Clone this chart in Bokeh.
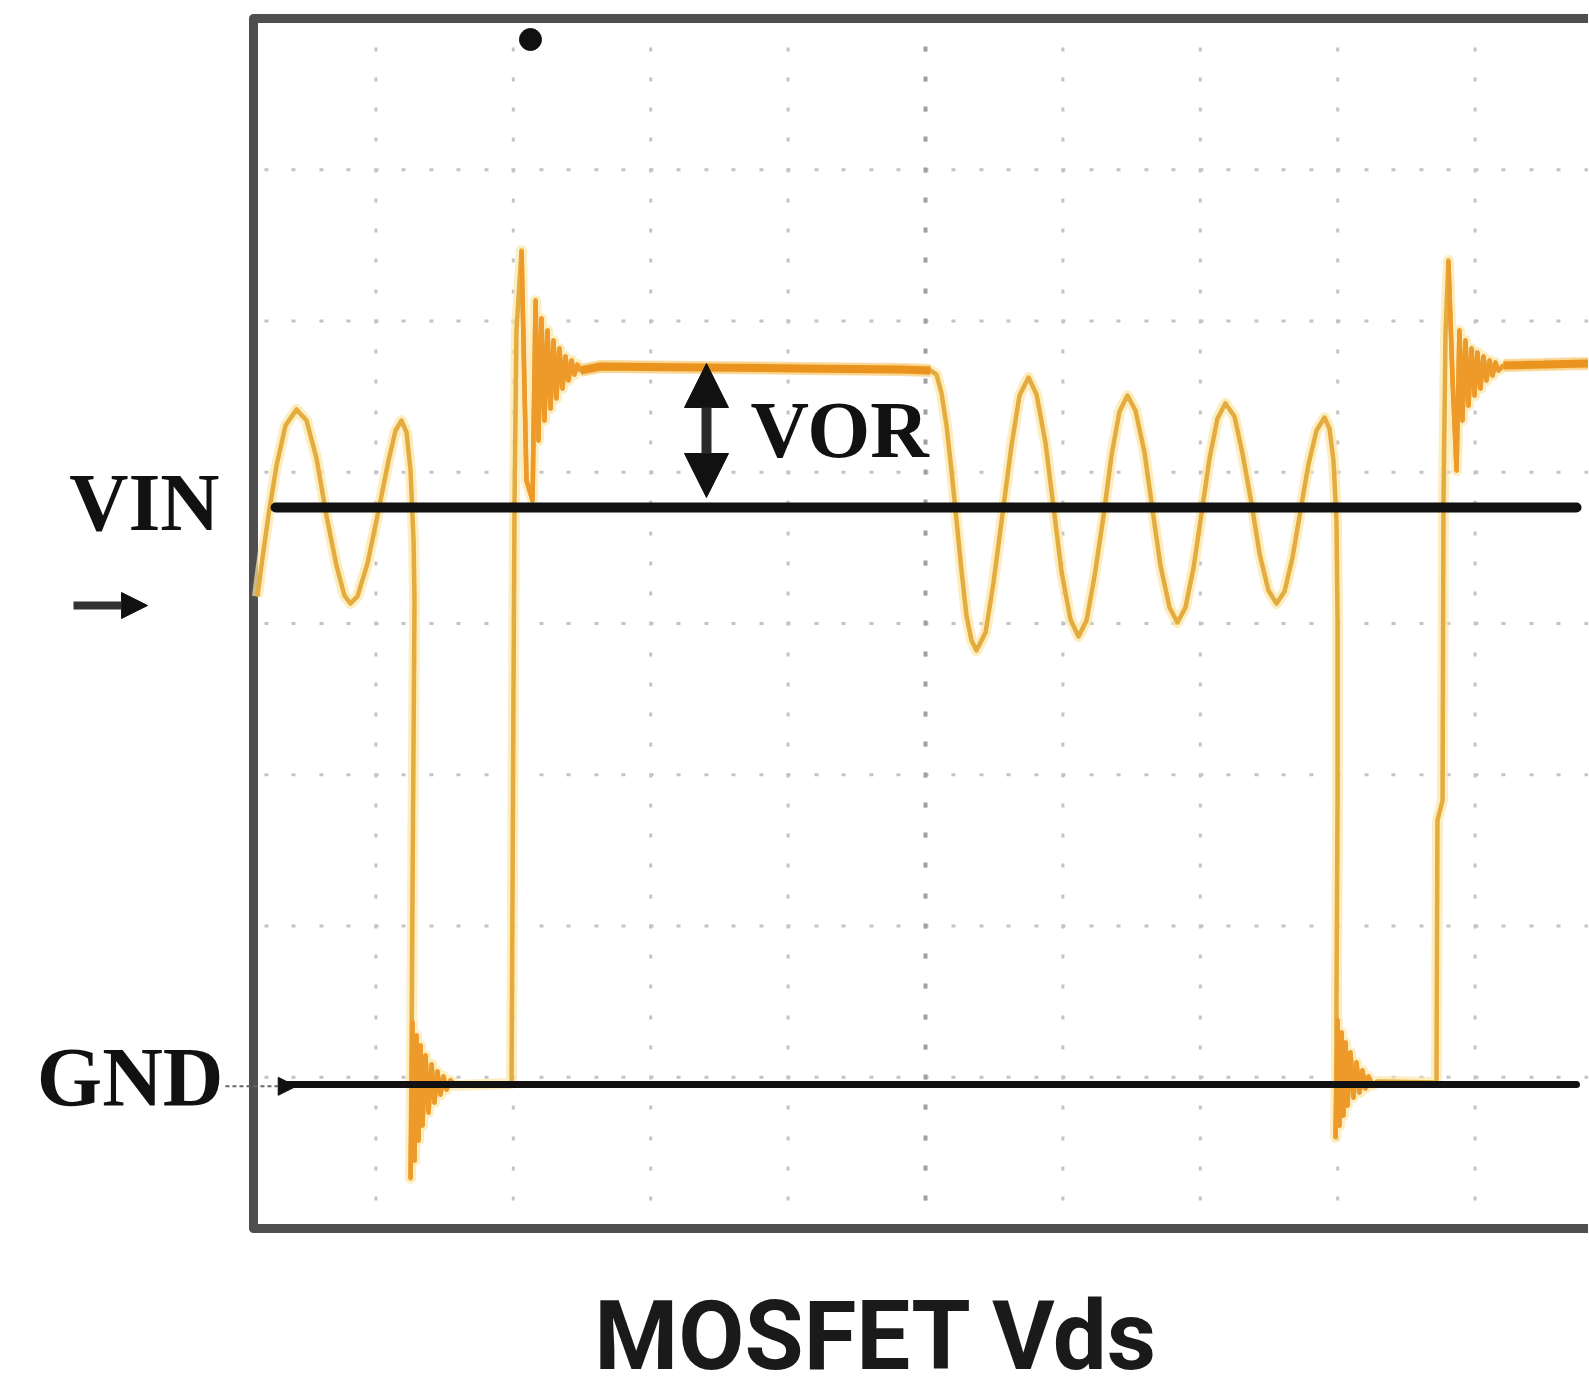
from bokeh.plotting import figure
from bokeh.models import Range1d, Label, Arrow, NormalHead
from bokeh.embed import file_html
from bokeh.resources import INLINE

# ---- data: time in divisions, voltage in divisions (screen bottom = 0) ----
ring1_t = [0.138, 0.167, 0.218, 0.277, 0.342, 0.422, 0.495, 0.568, 0.640, 0.713, 0.771,
           0.815, 0.866, 0.939, 1.019, 1.092, 1.143, 1.186, 1.223, 1.252, 1.274, 1.281]
ring1_v = [4.179, 4.383, 4.714, 5.045, 5.309, 5.415, 5.342, 5.091, 4.714, 4.383, 4.185,
           4.132, 4.179, 4.397, 4.747, 5.078, 5.276, 5.342, 5.263, 5.012, 4.549, 4.152]

fall1_t = [1.266, 1.259, 1.252, 1.266, 1.281, 1.295, 1.310, 1.325, 1.339, 1.361, 1.383,
           1.405, 1.426, 1.448, 1.470, 1.492, 1.514, 1.543, 1.579, 1.987]
fall1_v = [2.169, 1.111, 0.331, 1.362, 0.450, 1.276, 0.582, 1.210, 0.681, 1.144, 0.767,
           1.084, 0.833, 1.038, 0.886, 1.005, 0.919, 0.979, 0.945, 0.959]

rise1_t = [1.994, 2.001, 2.009, 2.023, 2.060, 2.096, 2.140, 2.162, 2.183, 2.205, 2.227,
           2.249, 2.271, 2.293, 2.314, 2.336, 2.358, 2.380, 2.402, 2.424, 2.445, 2.467, 2.489]
rise1_v = [2.169, 3.491, 4.813, 5.937, 6.466, 4.945, 4.813, 6.136, 5.210, 6.017, 5.342,
           5.937, 5.421, 5.871, 5.488, 5.818, 5.554, 5.765, 5.607, 5.739, 5.646, 5.712, 5.673]

plateau1_t = [2.489, 2.635, 3.362, 4.090, 4.818, 5.036]
plateau1_v = [5.673, 5.699, 5.693, 5.686, 5.679, 5.673]

ring2_t = [5.080, 5.116, 5.153, 5.189, 5.226, 5.262, 5.298, 5.335, 5.371, 5.437, 5.495,
           5.560, 5.626, 5.684, 5.750, 5.808, 5.873, 5.932, 5.990, 6.055, 6.114, 6.172,
           6.230, 6.295, 6.354, 6.412, 6.470, 6.528, 6.594, 6.652, 6.710, 6.776, 6.834,
           6.892, 6.951, 7.009, 7.067, 7.125, 7.183, 7.249, 7.307, 7.373, 7.431, 7.496,
           7.555, 7.613, 7.671, 7.729, 7.787, 7.846, 7.904, 7.940, 7.969, 7.991, 7.999]
ring2_v = [5.646, 5.527, 5.309, 5.012, 4.681, 4.350, 4.053, 3.888, 3.821, 3.940, 4.271,
           4.721, 5.177, 5.507, 5.626, 5.514, 5.197, 4.767, 4.344, 4.026, 3.914, 4.020,
           4.311, 4.707, 5.111, 5.402, 5.507, 5.408, 5.131, 4.754, 4.383, 4.106, 4.007,
           4.106, 4.370, 4.727, 5.091, 5.355, 5.455, 5.369, 5.124, 4.793, 4.463, 4.218,
           4.132, 4.212, 4.436, 4.747, 5.051, 5.276, 5.362, 5.289, 5.078, 4.681, 4.020]

fall2_t = [7.999, 7.991, 7.991, 7.984, 7.999, 8.013, 8.028, 8.042, 8.057, 8.071, 8.093,
           8.115, 8.137, 8.159, 8.180, 8.202, 8.224, 8.253, 8.290, 8.719]
fall2_v = [2.830, 1.507, 1.177, 0.602, 1.375, 0.681, 1.296, 0.747, 1.230, 0.813, 1.164,
           0.866, 1.098, 0.899, 1.045, 0.926, 1.005, 0.945, 0.972, 0.965]

rise2_t = [8.726, 8.763, 8.770, 8.785, 8.806, 8.836, 8.865, 8.886, 8.908, 8.930, 8.952,
           8.974, 8.996, 9.017, 9.039, 9.061, 9.083, 9.105, 9.127, 9.148, 9.170, 9.207]
rise2_v = [2.698, 2.830, 4.813, 5.937, 6.400, 5.607, 5.012, 5.937, 5.342, 5.871, 5.441,
           5.818, 5.507, 5.792, 5.554, 5.765, 5.607, 5.739, 5.640, 5.726, 5.673, 5.706]

plateau2_t = [9.207, 9.498, 9.825]
plateau2_v = [5.706, 5.712, 5.719]

grid_x = [1, 2, 3, 4, 5, 6, 7, 8, 9]
grid_y = [1, 2, 3, 4, 5, 6, 7]

box_left, box_bottom, box_top, box_right = 0.109, 0.0, 8.0, 9.90
vin_level = 4.767
gnd_level = 0.952
vin_line_t = [0.27, 9.738]
gnd_line_t = [0.35, 9.738]
vor_t, vor_bottom, vor_top = 3.406, 4.833, 5.719
trigger_t, trigger_v = 2.125, 7.861

trace_t = ring1_t + fall1_t + rise1_t + plateau1_t + ring2_t + fall2_t + rise2_t + plateau2_t
trace_v = ring1_v + fall1_v + rise1_v + plateau1_v + ring2_v + fall2_v + rise2_v + plateau2_v

p = figure(width=1588, height=1384,
           x_range=Range1d(-1.7322, 9.8253), y_range=Range1d(-1.0314, 8.1190),
           output_backend="svg", toolbar_location=None,
           min_border=0, background_fill_color="white", border_fill_color="white")
p.outline_line_color = None
p.axis.visible = False
p.grid.visible = False

# dotted graticule
n = len(grid_x)
p.segment(x0=grid_x, y0=[box_bottom] * n, x1=grid_x, y1=[box_top] * n,
          line_color="#c4c4c4", line_width=3, line_dash="4 26 4 26 4 26 4 27", line_dash_offset=2)
m = len(grid_y)
p.segment(x0=[box_left] * m, y0=grid_y, x1=[box_right] * m, y1=grid_y,
          line_color="#c4c4c4", line_width=3, line_dash="4 23 4 24", line_dash_offset=44)
p.segment(x0=[5], y0=[box_bottom], x1=[5], y1=[box_top],
          line_color="#a0a0a0", line_width=4, line_dash="5 25 5 25 5 25 5 26", line_dash_offset=2)

# screen border (open to the right)
p.line([box_right, box_left, box_left, box_right], [box_top, box_top, box_bottom, box_bottom],
       line_color="#4f4f4f", line_width=9, line_join="round")

# trace
p.line(trace_t, trace_v, line_color="#fbe7a6", line_width=11, line_alpha=0.7, line_join="round")
p.line(trace_t, trace_v, line_color="#e4ab3e", line_width=4.5, line_join="round")
for tt, vv in ((rise1_t[4:], rise1_v[4:]), (rise2_t[4:], rise2_v[4:]),
               (fall1_t[2:-1], fall1_v[2:-1]), (fall2_t[3:-1], fall2_v[3:-1])):
    p.line(tt, vv, line_color="#ee9a2a", line_width=4.5, line_join="round")
for tt, vv in ((plateau1_t, plateau1_v), (plateau2_t, plateau2_v)):
    p.line(tt, vv, line_color="#f6c46a", line_width=13, line_alpha=0.6)
    p.line(tt, vv, line_color="#ea941f", line_width=8)

# reference lines
p.line(vin_line_t, [vin_level, vin_level], line_color="#111111", line_width=10, line_cap="round")
p.line(gnd_line_t, [gnd_level, gnd_level], line_color="#111111", line_width=7, line_cap="round")

# trigger marker
p.scatter([trigger_t], [trigger_v], size=22, color="#111111")

# VOR arrow
p.add_layout(Arrow(x_start=vor_t, y_start=vor_bottom, x_end=vor_t, y_end=vor_top,
                   line_color="#2a2a2a", line_width=10,
                   start=NormalHead(size=44, fill_color="#111111", line_color="#111111"),
                   end=NormalHead(size=44, fill_color="#111111", line_color="#111111")))

# small arrows at the left
p.add_layout(Arrow(x_start=-1.201, y_start=4.119, x_end=-0.662, y_end=4.119,
                   line_color="#333333", line_width=8,
                   end=NormalHead(size=26, fill_color="#111111", line_color="#111111")))
p.add_layout(Arrow(x_start=-0.095, y_start=0.94, x_end=0.42, y_end=0.94,
                   line_color="#666666", line_width=2, line_dash="4 3",
                   end=NormalHead(size=18, fill_color="#111111", line_color="#111111")))

serif = "Liberation Serif"
p.add_layout(Label(x=-0.138, y=4.803, text="VIN", text_align="right", text_baseline="alphabetic",
                   text_font=serif, text_font_style="bold", text_font_size="82px", text_color="#111111"))
p.add_layout(Label(x=-0.109, y=0.999, text="GND", text_align="right", text_baseline="alphabetic",
                   text_font=serif, text_font_style="bold", text_font_size="84px", text_color="#111111"))
p.add_layout(Label(x=3.726, y=5.280, text="VOR", text_align="left", text_baseline="alphabetic",
                   text_font=serif, text_font_style="bold", text_font_size="81px", text_color="#111111"))
p.add_layout(Label(x=4.643, y=-0.712, text="MOSFET Vds", text_align="center", text_baseline="alphabetic",
                   text_font="Roboto", text_font_style="bold", text_font_size="96px", text_color="#1a1a1a"))

open("out.html", "w").write(file_html(p, INLINE))
